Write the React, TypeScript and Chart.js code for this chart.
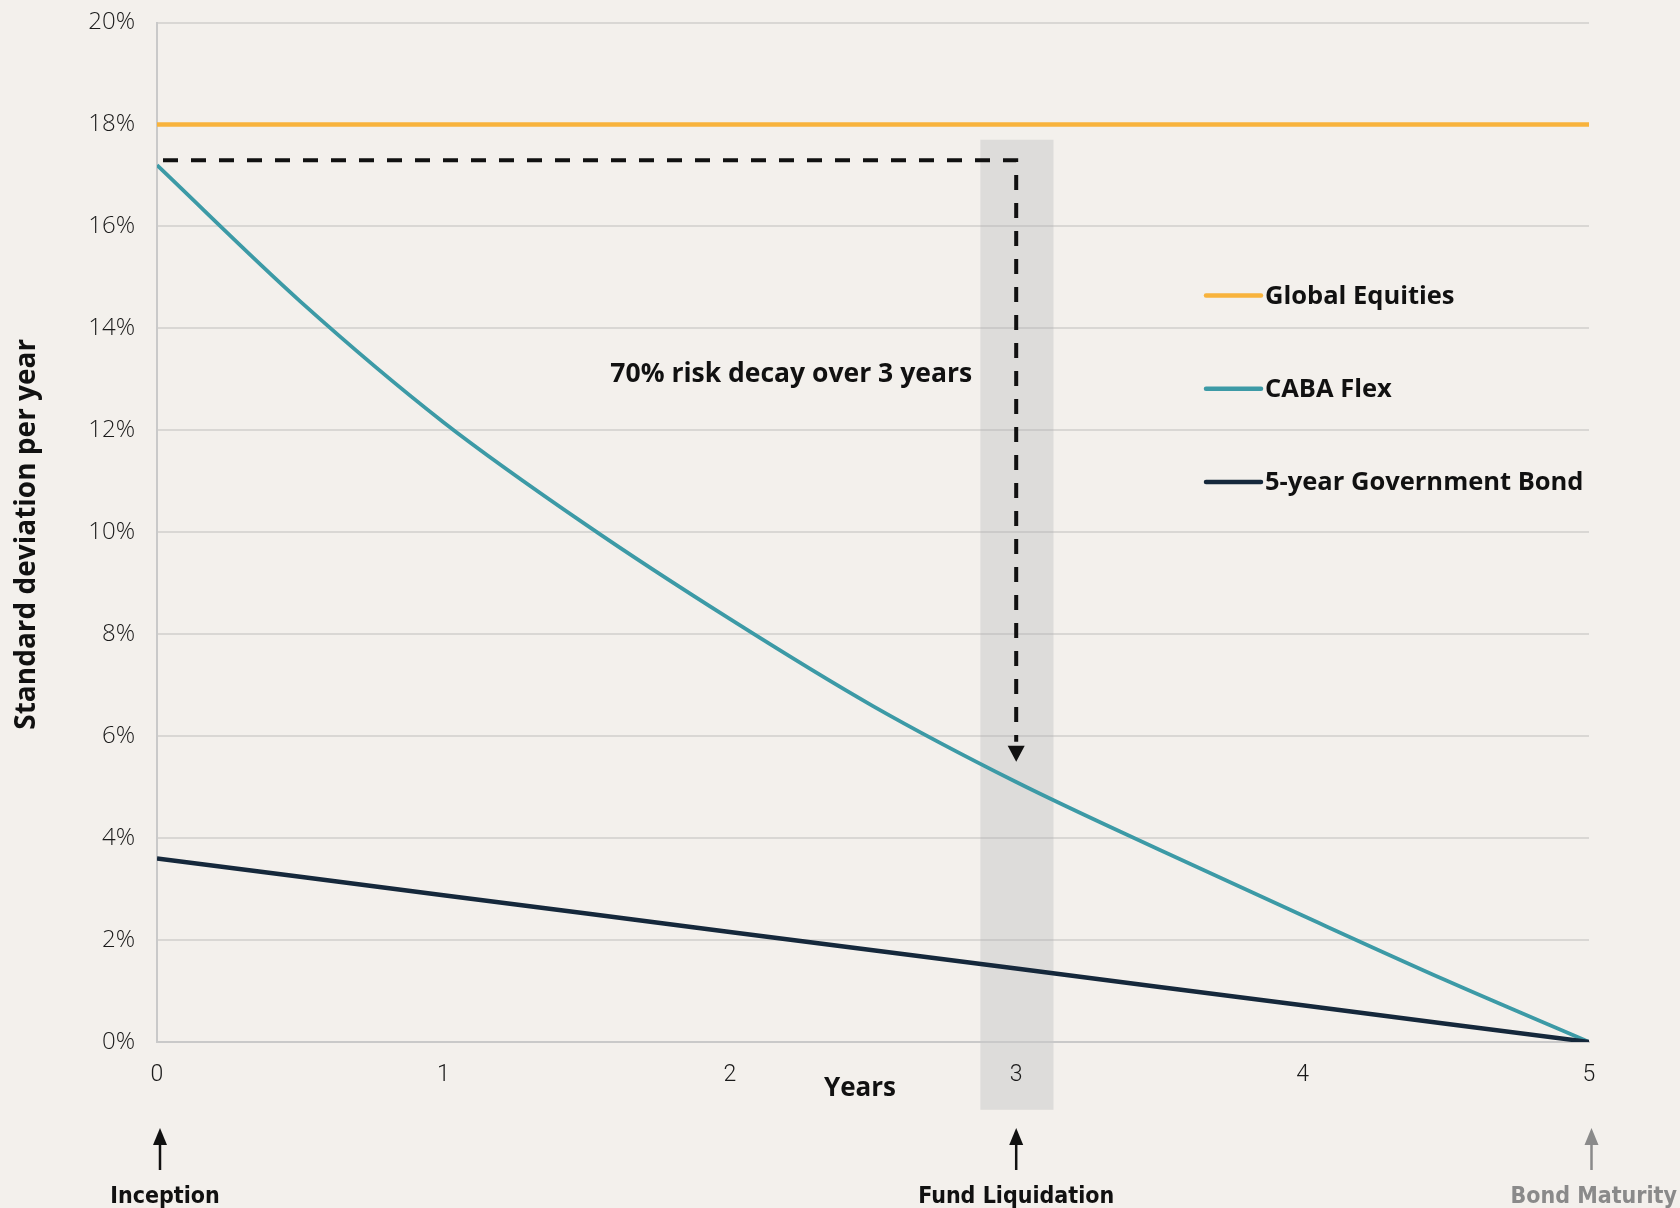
import React, { useEffect, useRef } from "react";
import { Chart, registerables } from "chart.js";

Chart.register(...registerables);

// ---- data ----
const YEARS = [0, 0.5, 1, 1.5, 2, 2.5, 3, 3.5, 4, 4.5, 5];
const EQUITIES = [18, 18, 18, 18, 18, 18, 18, 18, 18, 18, 18];
const CABA_FLEX = [17.2, 14.53, 12.16, 10.14, 8.3, 6.59, 5.1, 3.77, 2.48, 1.21, 0];
const GOV_BOND = [3.6, 3.24, 2.88, 2.52, 2.16, 1.8, 1.44, 1.08, 0.72, 0.36, 0];
const SERIES_NAMES = ["Global Equities", "CABA Flex", "5-year Government Bond"];
const SERIES_COLORS = ["#F8B33C", "#3C9AA6", "#15283B"];
const Y_MIN = 0;
const Y_MAX = 20;
const Y_STEP = 2;
const X_MIN = 0;
const X_MAX = 5;
const DECAY_LABEL = "70% risk decay over 3 years";
const DECAY_FROM = 17.3;
const DECAY_TO = 5.5;
const DECAY_YEAR = 3;
const BAND_YEARS = [2.875, 3.13];
const BAND_VALUES = [-1.33, 17.7];
const MILESTONE_YEARS = [0, 3, 5];
const MILESTONE_LABELS = ["Inception", "Fund Liquidation", "Bond Maturity"];
const MILESTONE_COLORS = ["#111111", "#111111", "#8a8a8a"];
const X_TITLE = "Years";
const Y_TITLE = "Standard deviation per year";

const BOLD = '"Open Sans", "Noto Sans", sans-serif';
const NARROW = '"Liberation Sans Narrow", "DejaVu Sans Condensed", sans-serif';
const ARROW_NUDGE = [3, 0, 2.5];
const LABEL_NUDGE = [5, 0, 4];

const toPoints = (vals: number[]) => vals.map((v, i) => ({ x: YEARS[i], y: v }));

const overlayPlugin = {
  id: "overlay",
  beforeDraw(chart: any) {
    const { ctx, scales } = chart;
    const x = scales.x;
    const y = scales.y;
    const x0 = x.getPixelForValue(BAND_YEARS[0]);
    const x1 = x.getPixelForValue(BAND_YEARS[1]);
    const yTop = y.getPixelForValue(BAND_VALUES[1]);
    const yBot = y.getPixelForValue(BAND_VALUES[0]);
    ctx.save();
    ctx.fillStyle = "rgba(200,200,200,0.5)";
    ctx.fillRect(x0, yTop, x1 - x0, yBot - yTop);
    ctx.restore();
  },
  afterDatasetsDraw(chart: any) {
    const { ctx, scales, chartArea } = chart;
    const x = scales.x;
    const y = scales.y;
    const xs = chartArea.left + 6;
    const xe = x.getPixelForValue(DECAY_YEAR);
    const ys = y.getPixelForValue(DECAY_FROM);
    const tip = y.getPixelForValue(DECAY_TO);
    const headH = 16;
    const headW = 8.5;
    ctx.save();
    ctx.strokeStyle = "#111";
    ctx.lineWidth = 4;
    ctx.setLineDash([15, 13]);
    ctx.beginPath();
    ctx.moveTo(xs, ys);
    ctx.lineTo(xe, ys);
    ctx.lineTo(xe, tip - headH - 4);
    ctx.stroke();
    ctx.setLineDash([]);
    ctx.fillStyle = "#111";
    ctx.beginPath();
    ctx.moveTo(xe - headW, tip - headH);
    ctx.lineTo(xe + headW, tip - headH);
    ctx.lineTo(xe, tip);
    ctx.closePath();
    ctx.fill();

    // annotation text
    ctx.font = `bold 26.5px ${BOLD}`;
    ctx.textAlign = "right";
    ctx.textBaseline = "middle";
    ctx.fillText(DECAY_LABEL, x.getPixelForValue(2.846), y.getPixelForValue(13.1));
    ctx.restore();
  },
  afterDraw(chart: any) {
    const { ctx, scales, chartArea } = chart;
    const x = scales.x;
    ctx.save();

    // legend
    const lx0 = chartArea.right - 383;
    const lx1 = chartArea.right - 328;
    const ly0 = chartArea.top + 273;
    const gap = 93.3;
    ctx.font = `bold 25.5px ${BOLD}`;
    ctx.textAlign = "left";
    ctx.textBaseline = "middle";
    SERIES_NAMES.forEach((name, i) => {
      const ly = ly0 + i * gap;
      ctx.strokeStyle = SERIES_COLORS[i];
      ctx.lineWidth = 4.5;
      ctx.lineCap = "round";
      ctx.beginPath();
      ctx.moveTo(lx0, ly);
      ctx.lineTo(lx1, ly);
      ctx.stroke();
      ctx.fillStyle = "#111";
      ctx.fillText(name, lx1 + 4, ly + 1);
    });

    // axis titles
    ctx.fillStyle = "#111";
    ctx.font = `bold 26px ${BOLD}`;
    ctx.textAlign = "center";
    ctx.textBaseline = "middle";
    ctx.fillText(X_TITLE, (chartArea.left + chartArea.right) / 2 - 13, 1089);
    ctx.save();
    ctx.font = `bold 28px ${BOLD}`;
    ctx.translate(27, (chartArea.top + chartArea.bottom) / 2 + 2);
    ctx.rotate(-Math.PI / 2);
    ctx.fillText(Y_TITLE, 0, 0);
    ctx.restore();

    // milestones
    ctx.lineCap = "butt";
    MILESTONE_YEARS.forEach((yr, i) => {
      const px = x.getPixelForValue(yr) + ARROW_NUDGE[i];
      ctx.strokeStyle = MILESTONE_COLORS[i];
      ctx.fillStyle = MILESTONE_COLORS[i];
      ctx.lineWidth = 2.5;
      ctx.beginPath();
      ctx.moveTo(px, 1170);
      ctx.lineTo(px, 1142);
      ctx.stroke();
      ctx.beginPath();
      ctx.moveTo(px - 7, 1145);
      ctx.lineTo(px + 7, 1145);
      ctx.lineTo(px, 1128);
      ctx.closePath();
      ctx.fill();
      ctx.font = `bold 23px ${NARROW}`;
      ctx.textBaseline = "middle";
      const w = ctx.measureText(MILESTONE_LABELS[i]).width;
      let cx = px + LABEL_NUDGE[i];
      if (cx + w / 2 > chart.width - 3) cx = chart.width - 3 - w / 2;
      ctx.textAlign = "center";
      ctx.fillText(MILESTONE_LABELS[i], cx, 1197);
    });
    ctx.restore();
  },
};

export default function App() {
  const ref = useRef<HTMLCanvasElement | null>(null);
  useEffect(() => {
    if (!ref.current) return;
    const chart = new Chart(ref.current, {
      type: "line",
      data: {
        datasets: [
          {
            label: SERIES_NAMES[0],
            data: toPoints(EQUITIES),
            borderColor: SERIES_COLORS[0],
            borderWidth: 4.5,
            pointRadius: 0,
            order: 3,
          },
          {
            label: SERIES_NAMES[1],
            data: toPoints(CABA_FLEX),
            borderColor: SERIES_COLORS[1],
            borderWidth: 3.8,
            pointRadius: 0,
            cubicInterpolationMode: "monotone",
            order: 2,
          },
          {
            label: SERIES_NAMES[2],
            data: toPoints(GOV_BOND),
            borderColor: SERIES_COLORS[2],
            borderWidth: 4.5,
            pointRadius: 0,
            order: 1,
          },
        ],
      },
      options: {
        animation: false,
        responsive: true,
        maintainAspectRatio: false,
        layout: { padding: { top: 22.5, right: 91, left: 0, bottom: 0 } },
        plugins: { legend: { display: false }, tooltip: { enabled: false } },
        scales: {
          x: {
            type: "linear",
            min: X_MIN,
            max: X_MAX,
            afterFit: (s: any) => {
              s.height = 166;
              s.paddingLeft = 0;
              s.paddingRight = 0;
            },
            ticks: {
              stepSize: 1,
              padding: 19,
              color: "#1a1a1a",
              font: { family: "Roboto, sans-serif", size: 23, weight: "300" },
            },
            grid: { display: false, drawTicks: false },
            border: { display: true, color: "#c9c9c9", width: 2 },
          },
          y: {
            min: Y_MIN,
            max: Y_MAX,
            afterFit: (s: any) => {
              s.width = 157;
              s.paddingTop = 0;
              s.paddingBottom = 0;
            },
            ticks: {
              stepSize: Y_STEP,
              padding: 22,
              color: "#1a1a1a",
              font: { family: '"Open Sans", sans-serif', size: 24, weight: "300" },
              callback: (v: any) => `${v}%`,
            },
            grid: { color: "rgba(170,170,170,0.35)", lineWidth: 2, drawTicks: false },
            border: { display: true, color: "#c9c9c9", width: 2 },
          },
        },
      },
      plugins: [overlayPlugin],
    });
    return () => chart.destroy();
  }, []);
  return (
    <div
      style={{
        position: "absolute",
        left: 0,
        top: 0,
        width: 1680,
        height: 1208,
        background: "#F3F0EC",
      }}
    >
      <canvas ref={ref} />
    </div>
  );
}
